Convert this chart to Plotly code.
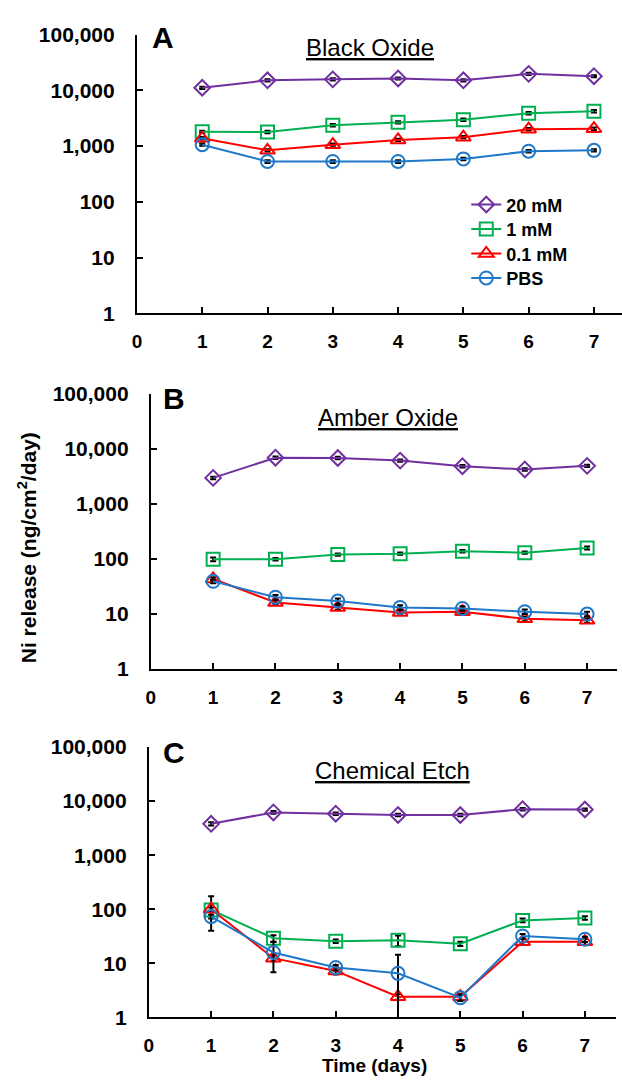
import plotly.graph_objects as go

# ---------------- data ----------------
days = [1, 2, 3, 4, 5, 6, 7]
series_names = ["20 mM", "1 mM", "0.1 mM", "PBS"]
panel_titles = ["Black Oxide", "Amber Oxide", "Chemical Etch"]
panel_letters = ["A", "B", "C"]
y_tickvals = [1, 10, 100, 1000, 10000, 100000]
y_ticktext = ["1", "10", "100", "1,000", "10,000", "100,000"]
x_tickvals = [0, 1, 2, 3, 4, 5, 6, 7]

# Panel A - Black Oxide
A_20 = [11100, 15100, 15700, 16300, 15100, 19700, 17900]
A_1 = [1800, 1790, 2370, 2670, 2970, 3890, 4220]
A_01 = [1380, 840, 1060, 1290, 1440, 2010, 2050]
A_PBS = [1060, 530, 530, 530, 590, 810, 840]
A_20_err = [500, 700, 700, 700, 700, 900, 800]
A_1_err = [90, 90, 120, 130, 150, 190, 210]
A_01_err = [70, 40, 50, 60, 70, 100, 100]
A_PBS_err = [50, 30, 30, 30, 30, 40, 40]

# Panel B - Amber Oxide
B_20 = [2950, 6880, 6790, 6090, 4820, 4210, 4890]
B_1 = [98, 98, 119, 124, 137, 129, 157]
B_01 = [43, 16, 13, 10.6, 10.9, 8.1, 7.6]
B_PBS = [39, 20, 17, 13, 12.5, 10.9, 9.9]
B_20_err = [150, 350, 340, 300, 240, 210, 250]
B_1_err = [8, 5, 6, 6, 7, 6, 10]
B_01_err = [3, 1.5, 1.3, 1.0, 1.0, 0.8, 0.7]
B_PBS_err = [3, 2, 2, 1.3, 1.2, 1.0, 1.0]

# Panel C - Chemical Etch
C_20 = [3800, 6180, 5850, 5530, 5530, 7090, 6990]
C_1 = [97, 29, 25.6, 26.7, 22.9, 62, 69]
C_01 = [100, 12.4, 7.2, 2.4, 2.4, 25, 25]
C_PBS = [73, 15.8, 8.3, 6.5, 2.3, 31.9, 27.8]
C_20_err = [250, 350, 300, 300, 300, 350, 350]
C_1_err_plus = [76, 4, 2, 6, 2, 5, 5]
C_1_err_minus = [57, 4, 2, 6, 2, 5, 5]
C_01_err = [8, 1.5, 1.0, 0.3, 0.3, 3, 3]
C_PBS_err_plus = [6, 9, 1.0, 7.8, 0.3, 3, 3]
C_PBS_err_minus = [6, 9, 1.0, 6.4, 0.3, 3, 3]

# ---------------- styling ----------------
W, H = 622, 1086
colors = ["#7030A0", "#00B050", "#FF0000", "#1F78C8"]
symbols = ["diamond-open", "square-open", "triangle-up-open", "circle-open"]
msizes = [12, 13, 13, 13]
FONT = "Liberation Sans, Arial, sans-serif"
legend_ids = ["legend", "legend2", "legend3", "legend4"]
legend_rows = [197, 222, 247, 272]


def fx(px):
    return px / W


def fy(py):
    return 1 - py / H


panels = [
    dict(vals=[A_20, A_1, A_01, A_PBS],
         plus=[A_20_err, A_1_err, A_01_err, A_PBS_err],
         minus=[A_20_err, A_1_err, A_01_err, A_PBS_err],
         xdom=(133, 622), ydom=(23, 308), xmax=7.43),
    dict(vals=[B_20, B_1, B_01, B_PBS],
         plus=[B_20_err, B_1_err, B_01_err, B_PBS_err],
         minus=[B_20_err, B_1_err, B_01_err, B_PBS_err],
         xdom=(147, 617), ydom=(390, 671), xmax=7.48),
    dict(vals=[C_20, C_1, C_01, C_PBS],
         plus=[C_20_err, C_1_err_plus, C_01_err, C_PBS_err_plus],
         minus=[C_20_err, C_1_err_minus, C_01_err, C_PBS_err_minus],
         xdom=(145, 616), ydom=(751, 1027), xmax=7.5),
]

fig = go.Figure()
layout_axes = {}
for p_i, p in enumerate(panels):
    suffix = "" if p_i == 0 else str(p_i + 1)
    for s_i in range(4):
        fig.add_trace(go.Scatter(
            x=days, y=p["vals"][s_i],
            xaxis="x" + suffix, yaxis="y" + suffix,
            mode="lines+markers",
            name=series_names[s_i],
            legend=legend_ids[s_i],
            showlegend=(p_i == 0),
            line=dict(color=colors[s_i], width=2),
            marker=dict(symbol=symbols[s_i], size=msizes[s_i], color=colors[s_i],
                        line=dict(width=2, color=colors[s_i])),
            error_y=dict(type="data", symmetric=False,
                         array=p["plus"][s_i], arrayminus=p["minus"][s_i],
                         color="black", thickness=2, width=3),
        ))
    tickfont = dict(family=FONT, size=19, color="black", weight="bold")
    layout_axes["xaxis" + suffix] = dict(
        domain=[fx(p["xdom"][0]), fx(p["xdom"][1])],
        anchor="y" + suffix, range=[0, p["xmax"]],
        tickmode="array", tickvals=x_tickvals,
        ticks="inside", ticklen=6, tickwidth=2, tickcolor="black",
        showline=True, linecolor="black", linewidth=2,
        showgrid=False, zeroline=False, tickfont=tickfont,
        ticklabelstandoff=10,
    )
    layout_axes["yaxis" + suffix] = dict(
        domain=[fy(p["ydom"][1]), fy(p["ydom"][0])],
        anchor="x" + suffix, type="log", range=[0, 5],
        tickmode="array", tickvals=y_tickvals, ticktext=y_ticktext,
        ticks="inside", ticklen=6, tickwidth=2, tickcolor="black",
        showline=True, linecolor="black", linewidth=2,
        showgrid=False, zeroline=False, tickfont=dict(tickfont, size=21),
        ticklabelstandoff=16,
    )

annotations = []
letter_pos = [(159, 26), (170, 395), (170, 757)]
title_pos = [(368, 36), (386, 414), (391, 775)]
for i in range(3):
    annotations.append(dict(
        text="<b>" + panel_letters[i] + "</b>", x=fx(letter_pos[i][0]), y=fy(letter_pos[i][1]),
        xref="paper", yref="paper", showarrow=False, xanchor="center", yanchor="middle",
        font=dict(family=FONT, size=30, color="black")))
    annotations.append(dict(
        text='<span style="text-decoration:underline">' + panel_titles[i] + "</span>",
        x=fx(title_pos[i][0]), y=fy(title_pos[i][1]),
        xref="paper", yref="paper", showarrow=False, xanchor="center", yanchor="middle",
        font=dict(family=FONT, size=24, color="black")))

annotations.append(dict(
    text="<b>Ni release (ng/cm<sup>2</sup>/day)</b>", x=fx(23), y=fy(547),
    xref="paper", yref="paper", showarrow=False, textangle=-90,
    xanchor="center", yanchor="middle",
    font=dict(family=FONT, size=21, color="black")))
annotations.append(dict(
    text="<b>Time (days)</b>", x=fx(372), y=fy(1076),
    xref="paper", yref="paper", showarrow=False, xanchor="center", yanchor="middle",
    font=dict(family=FONT, size=19, color="black")))

legends = {}
for s_i, lid in enumerate(legend_ids):
    legends[lid] = dict(x=fx(465), y=fy(legend_rows[s_i]), xanchor="left", yanchor="middle",
                        bgcolor="rgba(0,0,0,0)", borderwidth=0,
                        font=dict(family=FONT, size=18, color="black", weight="bold"),
                        itemwidth=30)

fig.update_layout(
    width=W, height=H, autosize=False,
    margin=dict(l=0, r=0, t=0, b=0, pad=0),
    paper_bgcolor="white", plot_bgcolor="white",
    showlegend=True,
    annotations=annotations,
    **legends,
    **layout_axes,
)

fig.write_html("out.html",
               config={"displayModeBar": False},
               post_script="document.body.style.margin='0px';document.body.style.overflow='hidden';")
